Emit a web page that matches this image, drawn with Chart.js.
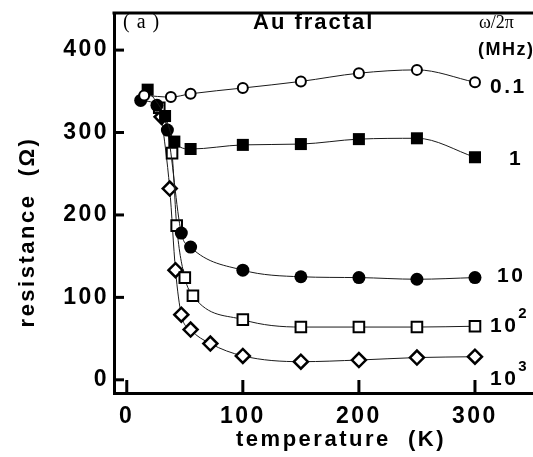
<!DOCTYPE html>
<html><head><meta charset="utf-8">
<script src="https://cdn.jsdelivr.net/npm/chart.js@4.4.0/dist/chart.umd.min.js"></script>
<style>html,body{margin:0;padding:0;background:#fff;overflow:hidden}canvas{display:block}</style>
</head><body><canvas id="c" width="533" height="457"></canvas>
<script>
// ---- data ----
const seriesLabels = ['0.1', '1', '10', '10', '10'];
const seriesSup = ['', '', '', '2', '3'];
const temp01 = [15, 38, 55, 100, 150, 200, 250, 300];
const res01 = [345, 343, 347, 354, 362, 372, 376, 361];
const temp1 = [18, 33, 41, 55, 100, 150, 200, 250, 300];
const res1 = [352, 320, 289, 280, 285, 286, 292, 293, 270];
const temp10 = [12, 26, 35, 47, 55, 100, 150, 200, 250, 300];
const res10 = [339, 333, 303, 178, 161, 133, 125, 124, 122, 124];
const temp100 = [28, 39, 43, 50, 57, 100, 150, 200, 250, 300];
const res100 = [330, 275, 187, 124, 102, 73, 64, 64, 64, 65];
const temp1000 = [30, 37, 42, 47, 55, 72, 100, 150, 200, 250, 300];
const res1000 = [319, 232, 133, 79, 61, 44, 29, 22, 24, 27, 28];
const xTickValues = [0, 100, 200, 300];
const yTickValues = [0, 100, 200, 300, 400];

const FONT = '"Liberation Sans", Arial, Helvetica, sans-serif';
const SERIF = '"Liberation Serif", "DejaVu Serif", serif';

function pts(xs, ys) { return xs.map((x, i) => ({ x: x, y: ys[i] })); }

const common = { showLine: true, borderColor: '#1a1a1a', borderWidth: 1, cubicInterpolationMode: 'monotone', pointBorderColor: '#000' };

const datasets = [
  Object.assign({}, common, { label: '0.1', data: pts(temp01, res01), pointStyle: 'circle', pointRadius: 5, pointBorderWidth: 2, pointBackgroundColor: '#fff' }),
  Object.assign({}, common, { label: '1', data: pts(temp1, res1), pointStyle: 'rect', pointRadius: 8.5, pointBorderWidth: 0, pointBackgroundColor: '#000' }),
  Object.assign({}, common, { label: '10', data: pts(temp10, res10), pointStyle: 'circle', pointRadius: 6.5, pointBorderWidth: 0, pointBackgroundColor: '#000' }),
  Object.assign({}, common, { label: '100', data: pts(temp100, res100), pointStyle: 'rect', pointRadius: 7.5, pointBorderWidth: 2, pointBackgroundColor: '#fff' }),
  Object.assign({}, common, { label: '1000', data: pts(temp1000, res1000), pointStyle: 'rectRot', pointRadius: 7, pointBorderWidth: 2.5, pointBackgroundColor: '#fff' })
];

const decor = {
  id: 'decor',
  beforeDraw(chart) {
    chart.ctx.letterSpacing = '2.5px';
  },
  afterDraw(chart) {
    const ctx = chart.ctx, a = chart.chartArea;
    const xs = chart.scales.x, ys = chart.scales.y;
    ctx.save();
    ctx.strokeStyle = '#000';
    ctx.fillStyle = '#000';
    // top frame line
    ctx.lineWidth = 3;
    ctx.beginPath(); ctx.moveTo(a.left - 1.5, a.top); ctx.lineTo(chart.width, a.top); ctx.stroke();
    // inward ticks
    ctx.lineWidth = 3;
    yTickValues.forEach(v => { const y = ys.getPixelForValue(v); ctx.beginPath(); ctx.moveTo(a.left, y); ctx.lineTo(a.left + 10, y); ctx.stroke(); });
    xTickValues.forEach(v => { const x = xs.getPixelForValue(v); ctx.beginPath(); ctx.moveTo(x, a.bottom); ctx.lineTo(x, a.bottom - 13); ctx.stroke(); });
    // axis titles
    ctx.textAlign = 'center'; ctx.textBaseline = 'middle';
    ctx.letterSpacing = '2.5px';
    ctx.font = 'bold 22px ' + FONT;
    ctx.fillText('temperature  (K)', 341, 440);
    ctx.save();
    ctx.translate(28, 232); ctx.rotate(-Math.PI / 2);
    ctx.font = 'bold 22px ' + FONT;
    ctx.letterSpacing = '2.5px';
    ctx.fillText('resistance  (\u03A9)', 0, 0);
    ctx.restore();
    // panel texts
    ctx.textAlign = 'left';
    ctx.letterSpacing = '7px';
    ctx.font = '20px ' + SERIF;
    ctx.fillText('(a)', a.left + 9, a.top + 10);
    ctx.letterSpacing = '2px';
    ctx.font = 'bold 22px ' + FONT;
    ctx.fillText('Au fractal', 253, a.top + 10);
    ctx.letterSpacing = '0px';
    ctx.font = '18px ' + SERIF;
    ctx.fillText('\u03C9/2\u03C0', 479, a.top + 10);
    ctx.letterSpacing = '1.5px';
    ctx.font = 'bold 18px ' + FONT;
    ctx.fillText('(MHz)', 478, 50);
    // series labels, placed beside the last point of each series
    const offs = [[15, 5], [34, 2], [22, -1], [15, 0], [15, 22]];
    chart.data.datasets.forEach((ds, i) => {
      const last = ds.data[ds.data.length - 1];
      const px = xs.getPixelForValue(last.x) + offs[i][0];
      const py = ys.getPixelForValue(last.y) + offs[i][1];
      ctx.font = 'bold 21px ' + FONT;
      ctx.letterSpacing = '2.5px';
      ctx.fillText(seriesLabels[i], px, py);
      if (seriesSup[i]) {
        const w = ctx.measureText(seriesLabels[i]).width;
        ctx.font = 'bold 15px ' + FONT;
        ctx.fillText(seriesSup[i], px + w, py - 12);
      }
    });
    ctx.restore();
  }
};

new Chart(document.getElementById('c'), {
  type: 'scatter',
  data: { datasets: datasets },
  plugins: [decor],
  options: {
    responsive: false, animation: false,
    layout: { autoPadding: false, padding: { top: 13, right: 0, left: 0, bottom: 0 } },
    plugins: { legend: { display: false }, tooltip: { enabled: false } },
    scales: {
      x: {
        type: 'linear', min: -11, max: 350,
        afterBuildTicks: s => { s.ticks = xTickValues.map(v => ({ value: v })); },
        afterFit: s => { s.height = 64; s.paddingRight = 0; s.paddingLeft = 0; },
        grid: { display: false, drawTicks: false },
        border: { display: true, width: 3, color: '#000' },
        ticks: { color: '#000', padding: 10, maxRotation: 0, font: { family: FONT, size: 23, weight: 'bold' } }
      },
      y: {
        type: 'linear', min: -16, max: 445,
        afterBuildTicks: s => { s.ticks = yTickValues.map(v => ({ value: v })); },
        afterFit: s => { s.width = 114; s.paddingTop = 0; s.paddingBottom = 0; },
        grid: { display: false, drawTicks: false },
        border: { display: true, width: 3, color: '#000' },
        ticks: { color: '#000', padding: 5, font: { family: FONT, size: 23, weight: 'bold' } }
      }
    }
  }
});
</script></body></html>
